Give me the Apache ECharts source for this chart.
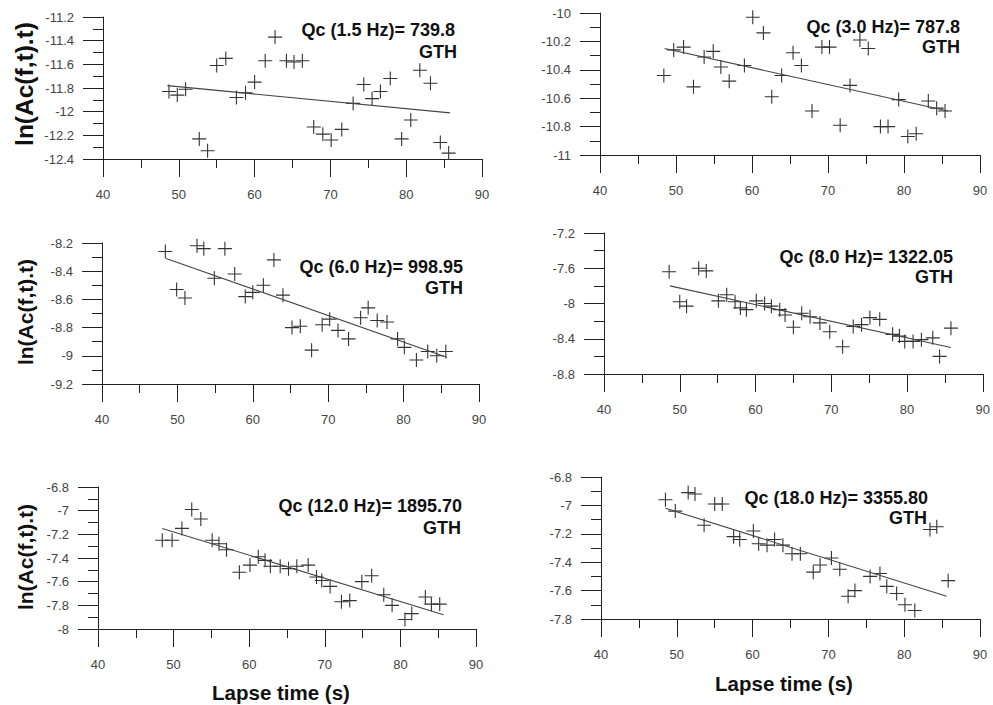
<!DOCTYPE html>
<html><head><meta charset="utf-8">
<script src="https://cdn.jsdelivr.net/npm/echarts@6/dist/echarts.min.js"></script>
<style>html,body{margin:0;padding:0;background:#fff}#c{width:993px;height:705px}</style>
</head><body><div id="c"></div>
<script>
// ---- data ----
const xMin = 40, xMax = 90, xStep = 10;
const qcLabels = ['Qc (1.5 Hz)= 739.8','Qc (3.0 Hz)= 787.8','Qc (6.0 Hz)= 998.95','Qc (8.0 Hz)= 1322.05','Qc (12.0 Hz)= 1895.70','Qc (18.0 Hz)= 3355.80'];
const stationLabel = 'GTH';
const yAxisTitle = 'ln(Ac(f,t).t)';
const xAxisTitle = 'Lapse time (s)';
const yMins = [-12.4, -11, -9.2, -8.8, -8, -7.8];
const yMaxs = [-11.2, -10, -8.2, -7.2, -6.8, -6.8];
const ySteps = [0.2, 0.2, 0.2, 0.4, 0.2, 0.2];

const p1X = [48.7,49.8,50.9,52.7,53.8,55.0,56.2,57.6,58.8,60.0,61.4,62.7,64.2,65.2,66.3,67.8,69.0,70.1,71.5,73.0,74.4,75.5,76.6,77.9,79.4,80.6,81.8,83.2,84.5,85.6];
const p1Y = [-11.83,-11.86,-11.81,-12.23,-12.33,-11.61,-11.55,-11.88,-11.84,-11.75,-11.57,-11.37,-11.57,-11.58,-11.57,-12.13,-12.19,-12.24,-12.15,-11.93,-11.77,-11.89,-11.83,-11.72,-12.23,-12.07,-11.65,-11.76,-12.26,-12.35];
const p1LineX = [48.5, 85.8];
const p1LineY = [-11.78, -12.01];

const p2X = [48.4,49.7,51.0,52.3,53.7,54.9,55.9,57.0,59.0,60.1,61.5,62.6,63.9,65.4,66.5,67.9,69.2,70.2,71.6,72.9,74.2,75.3,76.9,77.9,79.3,80.5,81.6,83.2,84.3,85.4];
const p2Y = [-10.44,-10.26,-10.24,-10.52,-10.31,-10.27,-10.38,-10.48,-10.37,-10.03,-10.14,-10.59,-10.44,-10.28,-10.37,-10.69,-10.24,-10.24,-10.79,-10.51,-10.19,-10.25,-10.80,-10.80,-10.61,-10.87,-10.85,-10.62,-10.67,-10.69];
const p2LineX = [48.5, 85.8];
const p2LineY = [-10.25, -10.69];

const p3X = [48.4,49.9,51.0,52.6,53.5,54.9,56.3,57.6,59.0,60.0,61.4,62.8,64.0,65.2,66.3,67.8,69.2,70.2,71.3,72.7,74.3,75.3,76.5,77.8,79.2,80.1,81.7,83.2,84.4,85.6];
const p3Y = [-8.26,-8.53,-8.59,-8.22,-8.24,-8.45,-8.24,-8.42,-8.58,-8.55,-8.50,-8.32,-8.57,-8.80,-8.79,-8.96,-8.78,-8.74,-8.82,-8.88,-8.73,-8.66,-8.75,-8.76,-8.88,-8.94,-9.03,-8.97,-9.00,-8.97];
const p3LineX = [48.5, 85.7];
const p3LineY = [-8.31, -9.01];

const p4X = [48.6,50.0,50.9,52.5,53.5,55.1,56.2,57.3,58.0,58.8,60.1,61.2,62.1,63.2,63.9,65.0,66.1,67.2,68.5,69.8,71.5,72.9,74.0,75.1,76.4,78.1,79.0,79.7,80.8,81.9,83.4,84.3,85.8];
const p4Y = [-7.64,-7.98,-8.03,-7.60,-7.63,-7.97,-7.90,-7.98,-8.05,-8.07,-7.97,-8.00,-8.03,-8.07,-8.13,-8.27,-8.11,-8.15,-8.22,-8.32,-8.49,-8.26,-8.24,-8.16,-8.18,-8.35,-8.37,-8.43,-8.43,-8.41,-8.39,-8.60,-8.28];
const p4LineX = [48.7, 85.8];
const p4LineY = [-7.80, -8.50];

const p5X = [48.5,49.8,51.1,52.4,53.6,55.1,56.0,57.0,58.7,60.1,61.2,62.1,62.8,64.1,65.2,66.3,67.8,68.9,69.6,70.7,72.2,73.3,74.9,76.2,77.8,78.9,80.6,81.5,83.3,84.1,85.2];
const p5Y = [-7.25,-7.25,-7.15,-6.99,-7.07,-7.25,-7.28,-7.33,-7.52,-7.46,-7.39,-7.42,-7.47,-7.47,-7.49,-7.47,-7.46,-7.56,-7.59,-7.64,-7.77,-7.76,-7.60,-7.55,-7.71,-7.80,-7.92,-7.87,-7.73,-7.79,-7.79];
const p5LineX = [48.5, 85.7];
const p5LineY = [-7.15, -7.88];

const p6X = [48.5,49.8,51.5,52.4,53.6,55.0,56.0,57.5,58.3,60.1,60.8,61.9,62.9,64.0,65.2,66.3,68.0,68.9,70.4,71.5,72.6,73.5,75.5,76.8,77.7,79.0,80.1,81.4,83.4,84.3,85.8];
const p6Y = [-6.96,-7.04,-6.91,-6.92,-7.14,-6.99,-6.99,-7.22,-7.24,-7.18,-7.27,-7.28,-7.24,-7.28,-7.34,-7.34,-7.47,-7.42,-7.37,-7.45,-7.64,-7.60,-7.50,-7.48,-7.57,-7.62,-7.70,-7.74,-7.17,-7.15,-7.53];
const p6LineX = [48.5, 85.6];
const p6LineY = [-7.02, -7.64];

// ---- layout / style ----
const FONT = "'Liberation Sans', Arial, sans-serif";
const grids = [
  {left:103, top:17,  width:379, height:142},
  {left:600, top:13,  width:380, height:142},
  {left:102, top:243, width:377, height:141},
  {left:604, top:233, width:379, height:141},
  {left:98,  top:487, width:378, height:142},
  {left:601, top:477, width:379, height:142}
];
const qcPos  = [[455,30],[960,27],[463,267],[953,257],[462,506],[928,498]];
const gthPos = [[457,52],[960,47],[463,288],[953,277],[461,528],[927,518]];
const yTitlePos = [[24,84,24.5],[25,312,21],[25,557,21]];
const xTitlePos = [[281,692],[784,683]];

const scatterX = [p1X,p2X,p3X,p4X,p5X,p6X];
const scatterY = [p1Y,p2Y,p3Y,p4Y,p5Y,p6Y];
const lineX = [p1LineX,p2LineX,p3LineX,p4LineX,p5LineX,p6LineX];
const lineY = [p1LineY,p2LineY,p3LineY,p4LineY,p5LineY,p6LineY];

const AX = '#222';
const xAxes = [], yAxes = [], series = [], graphic = [];
for (let i = 0; i < 6; i++) {
  xAxes.push({
    type:'value', gridIndex:i, position:'bottom', min:xMin, max:xMax, interval:xStep,
    axisLine:{show:true, onZero:false, lineStyle:{color:AX, width:1}},
    axisTick:{show:true, length:18, lineStyle:{color:AX, width:1}},
    minorTick:{show:true, splitNumber:2, length:9, lineStyle:{color:AX, width:1}},
    axisLabel:{color:'#444', fontSize:13, fontFamily:FONT, margin:29},
    splitLine:{show:false}
  });
  yAxes.push({
    type:'value', gridIndex:i, position:'left', min:yMins[i], max:yMaxs[i], interval:ySteps[i],
    axisLine:{show:true, onZero:false, lineStyle:{color:AX, width:1}},
    axisTick:{show:true, length:20, lineStyle:{color:AX, width:1}},
    minorTick:{show:true, splitNumber:2, length:10, lineStyle:{color:AX, width:1}},
    axisLabel:{color:'#444', fontSize:13, fontFamily:FONT, margin:29},
    splitLine:{show:false}
  });
  series.push({
    type:'scatter', xAxisIndex:i, yAxisIndex:i,
    data: scatterX[i].map((x,k)=>[x, scatterY[i][k]]),
    symbol:'path://M0,50L100,50M50,0L50,100', symbolSize:14,
    itemStyle:{color:'transparent', borderColor:'#333', borderWidth:1.1, opacity:1},
    silent:true
  });
  series.push({
    type:'line', xAxisIndex:i, yAxisIndex:i,
    data: lineX[i].map((x,k)=>[x, lineY[i][k]]),
    showSymbol:false, symbol:'none',
    lineStyle:{color:'#444', width:1.1},
    silent:true
  });
  graphic.push({type:'text', x:qcPos[i][0], y:qcPos[i][1],
    style:{text:qcLabels[i], font:"bold 18px "+FONT, fill:'#111', align:'right', verticalAlign:'middle', textAlign:'right', textVerticalAlign:'middle'}});
  graphic.push({type:'text', x:gthPos[i][0], y:gthPos[i][1],
    style:{text:stationLabel, font:"bold 18px "+FONT, fill:'#111', align:'right', verticalAlign:'middle', textAlign:'right', textVerticalAlign:'middle'}});
}
yTitlePos.forEach(p => graphic.push({type:'text', x:p[0], y:p[1], rotation:Math.PI/2,
  style:{text:yAxisTitle, font:"bold "+p[2]+"px "+FONT, fill:'#111', align:'center', verticalAlign:'middle', textAlign:'center', textVerticalAlign:'middle'}}));
xTitlePos.forEach(p => graphic.push({type:'text', x:p[0], y:p[1],
  style:{text:xAxisTitle, font:"bold 20.5px "+FONT, fill:'#111', align:'center', verticalAlign:'middle', textAlign:'center', textVerticalAlign:'middle'}}));

const chart = echarts.init(document.getElementById('c'), null, {renderer:'svg'});
chart.setOption({
  animation:false,
  backgroundColor:'#fff',
  grid: grids,
  xAxis: xAxes,
  yAxis: yAxes,
  series: series,
  graphic: graphic
});
</script>
</body></html>
